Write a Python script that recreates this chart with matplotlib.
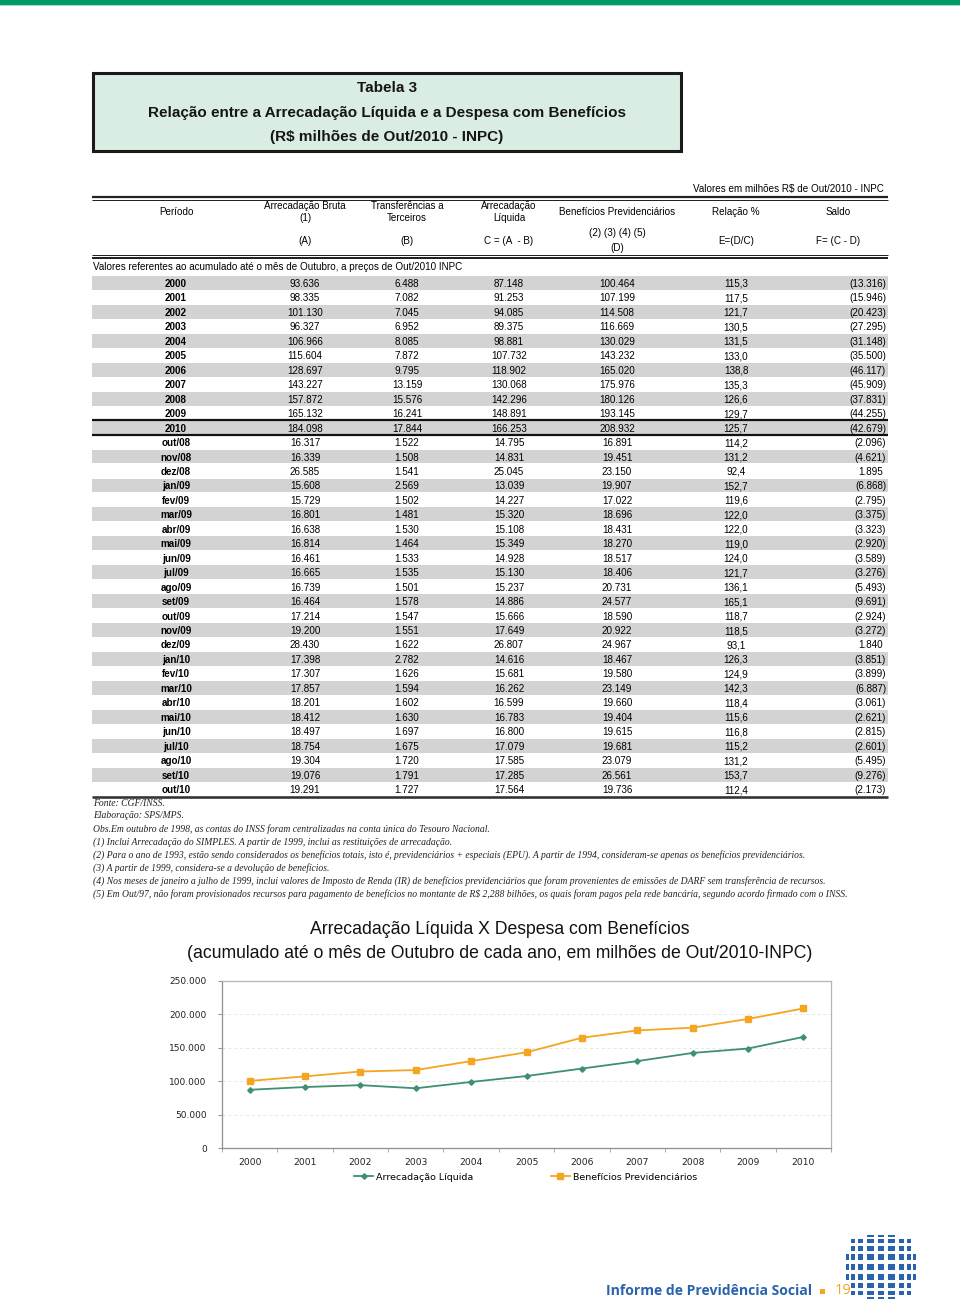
import matplotlib
matplotlib.use('Agg')
import matplotlib.pyplot as plt
from matplotlib import font_manager
from matplotlib.patches import Rectangle
import numpy as np

# ---------------- data (R$ milhoes de Out/2010 - INPC) ----------------
periodos = ['2000', '2001', '2002', '2003', '2004', '2005', '2006', '2007', '2008', '2009', '2010',
            'out/08', 'nov/08', 'dez/08', 'jan/09', 'fev/09', 'mar/09', 'abr/09', 'mai/09', 'jun/09',
            'jul/09', 'ago/09', 'set/09', 'out/09', 'nov/09', 'dez/09', 'jan/10', 'fev/10', 'mar/10',
            'abr/10', 'mai/10', 'jun/10', 'jul/10', 'ago/10', 'set/10', 'out/10']

arrec_bruta = [93636, 98335, 101130, 96327, 106966, 115604, 128697, 143227, 157872, 165132, 184098,
               16317, 16339, 26585, 15608, 15729, 16801, 16638, 16814, 16461, 16665, 16739, 16464,
               17214, 19200, 28430, 17398, 17307, 17857, 18201, 18412, 18497, 18754, 19304, 19076, 19291]

transf = [6488, 7082, 7045, 6952, 8085, 7872, 9795, 13159, 15576, 16241, 17844,
          1522, 1508, 1541, 2569, 1502, 1481, 1530, 1464, 1533, 1535, 1501, 1578,
          1547, 1551, 1622, 2782, 1626, 1594, 1602, 1630, 1697, 1675, 1720, 1791, 1727]

arrec_liq = [87148, 91253, 94085, 89375, 98881, 107732, 118902, 130068, 142296, 148891, 166253,
             14795, 14831, 25045, 13039, 14227, 15320, 15108, 15349, 14928, 15130, 15237, 14886,
             15666, 17649, 26807, 14616, 15681, 16262, 16599, 16783, 16800, 17079, 17585, 17285, 17564]

beneficios = [100464, 107199, 114508, 116669, 130029, 143232, 165020, 175976, 180126, 193145, 208932,
              16891, 19451, 23150, 19907, 17022, 18696, 18431, 18270, 18517, 18406, 20731, 24577,
              18590, 20922, 24967, 18467, 19580, 23149, 19660, 19404, 19615, 19681, 23079, 26561, 19736]

relacao = [115.3, 117.5, 121.7, 130.5, 131.5, 133.0, 138.8, 135.3, 126.6, 129.7, 125.7,
           114.2, 131.2, 92.4, 152.7, 119.6, 122.0, 122.0, 119.0, 124.0, 121.7, 136.1, 165.1,
           118.7, 118.5, 93.1, 126.3, 124.9, 142.3, 118.4, 115.6, 116.8, 115.2, 131.2, 153.7, 112.4]

saldo = [-13316, -15946, -20423, -27295, -31148, -35500, -46117, -45909, -37831, -44255, -42679,
         -2096, -4621, 1895, -6868, -2795, -3375, -3323, -2920, -3589, -3276, -5493, -9691,
         -2924, -3272, 1840, -3851, -3899, -6887, -3061, -2621, -2815, -2601, -5495, -9276, -2173]

anos = periodos[:11]
serie_liq = arrec_liq[:11]
serie_ben = beneficios[:11]

notas = [
    "Fonte: CGF/INSS.",
    "Elaboração: SPS/MPS.",
    "Obs.Em outubro de 1998, as contas do INSS foram centralizadas na conta única do Tesouro Nacional.",
    "(1) Inclui Arrecadação do SIMPLES. A partir de 1999, inclui as restituições de arrecadação.",
    "(2) Para o ano de 1993, estão sendo considerados os benefícios totais, isto é, previdenciários + especiais (EPU). A partir de 1994, consideram-se apenas os benefícios previdenciários.",
    "(3) A partir de 1999, considera-se a devolução de benefícios.",
    "(4) Nos meses de janeiro a julho de 1999, inclui valores de Imposto de Renda (IR) de benefícios previdenciários que foram provenientes de emissões de DARF sem transferência de recursos.",
    "(5) Em Out/97, não foram provisionados recursos para pagamento de benefícios no montante de R$ 2,288 bilhões, os quais foram pagos pela rede bancária, segundo acordo firmado com o INSS.",
]


def fmt_int(v):
    return f"{abs(v):,}".replace(',', '.')


def fmt_saldo(v):
    return "(" + fmt_int(v) + ")" if v < 0 else fmt_int(v)


def fmt_rel(v):
    return f"{v:.1f}".replace('.', ',')


# ---------------- fonts ----------------
names = {f.name for f in font_manager.fontManager.ttflist}
if 'Liberation Sans Narrow' in names:
    NARROW = 'Liberation Sans Narrow'
    fs_tab = 7.8
else:
    NARROW = 'Liberation Sans'
    fs_tab = 7.1
plt.rcParams['font.family'] = ['Liberation Sans', 'DejaVu Sans']

W, H = 960, 1301
fig = plt.figure(figsize=(W / 100, H / 100), dpi=100)
fig.patch.set_facecolor('white')

# page overlay in pixel coordinates
pg = fig.add_axes([0, 0, 1, 1])
pg.set_xlim(0, W)
pg.set_ylim(H, 0)
pg.axis('off')


def t(x, y, s, size=fs_tab, ha='center', family=None, **kw):
    pg.text(x, y, s, fontsize=size, ha=ha, va='center_baseline', family=family or NARROW, **kw)


def hline(y, x0=92, x1=888, px=1.0, color='#222222'):
    pg.plot([x0, x1], [y, y], color=color, lw=px * 0.72, solid_capstyle='butt')


# top green band
pg.add_patch(Rectangle((0, 0), W, 4.5, color='#00996a', lw=0))
pg.add_patch(Rectangle((0, 4.5), W, 1.8, color='#a9dcc6', lw=0))

# title box
pg.add_patch(Rectangle((93, 73), 588, 78, facecolor='#daede3', edgecolor='#1a1a1a', lw=2.2))
t(387, 87, "Tabela 3", size=11, family='Liberation Sans', weight='bold', color='#151515')
t(387, 111, "Relação entre a Arrecadação Líquida e a Despesa com Benefícios", size=11,
  family='Liberation Sans', weight='bold', color='#151515')
t(387, 135, "(R$ milhões de Out/2010 - INPC)", size=11, family='Liberation Sans',
  weight='bold', color='#151515')

# table header
t(884, 188, "Valores em milhões R$ de Out/2010 - INPC", ha='right')
hline(196.5, px=2.2)
hline(199.8, px=1.0)

cols = [176, 305, 407, 509, 617, 736, 838]
t(cols[0], 211, "Período")
t(cols[1], 205, "Arrecadação Bruta")
t(cols[1], 217, "(1)")
t(cols[2], 205, "Transferências a")
t(cols[2], 217, "Terceiros")
t(cols[3], 205, "Arrecadação")
t(cols[3], 217, "Líquida")
t(cols[4], 211, "Benefícios Previdenciários")
t(cols[5], 211, "Relação %")
t(cols[6], 211, "Saldo")
t(cols[1], 240, "(A)")
t(cols[2], 240, "(B)")
t(cols[3], 240, "C = (A  - B)")
t(cols[4], 232, "(2) (3) (4) (5)")
t(cols[4], 247, "(D)")
t(cols[5], 240, "E=(D/C)")
t(cols[6], 240, "F= (C - D)")
hline(254.5, px=1.0)
hline(257.8, px=2.0)

t(93, 266, "Valores referentes ao acumulado até o mês de Outubro, a preços de Out/2010 INPC", ha='left')

# body rows
y0, dy = 283.0, 14.46
row_y = y0 + dy * np.arange(len(periodos))
shade = [i for i in range(len(periodos)) if i % 2 == 0]
pg.barh(row_y[shade], 796, left=92, height=dy - 0.6, color='#d3d3d3', lw=0, zorder=0)

for i, p in enumerate(periodos):
    y = row_y[i]
    t(cols[0], y, p, weight='bold')
    t(cols[1], y, fmt_int(arrec_bruta[i]))
    t(cols[2], y, fmt_int(transf[i]))
    t(cols[3], y, fmt_int(arrec_liq[i]))
    t(cols[4], y, fmt_int(beneficios[i]))
    t(cols[5], y, fmt_rel(relacao[i]))
    t(886 if saldo[i] < 0 else 883, y, fmt_saldo(saldo[i]), ha='right')

hline(row_y[10] - dy / 2, px=2.2, color='#111111')
hline(row_y[10] + dy / 2, px=2.2, color='#111111')
hline(row_y[-1] + dy / 2 + 0.5, px=2.6, color='#333333')

# footnotes
for k, s in enumerate(notas):
    pg.text(93, 802 + 13 * k, s, fontsize=6.95, ha='left', va='center_baseline',
            family='Liberation Serif', style='italic', color='#222222')

# chart title
t(500, 928, "Arrecadação Líquida X Despesa com Benefícios", size=12.7,
  family='Liberation Sans', color='#111111')
t(500, 952, "(acumulado até o mês de Outubro de cada ano, em milhões de Out/2010-INPC)",
  size=12.7, family='Liberation Sans', color='#111111')

# ---------------- line chart ----------------
ax = fig.add_axes([222 / W, 1 - 1148 / H, 609 / W, 167 / H])
x = np.arange(len(anos))
ax.plot(x, serie_liq, color='#3f8f72', lw=1.3, marker='D', ms=2.8,
        label='Arrecadação Líquida')
ax.plot(x, serie_ben, color='#f4a522', lw=1.3, marker='s', ms=4.8,
        label='Benefícios Previdenciários')
ax.set_xlim(-0.5, len(anos) - 0.5)
ax.set_ylim(0, 250000)
ax.set_yticks(np.arange(0, 250001, 50000))
ax.set_yticklabels([fmt_int(v) for v in range(0, 250001, 50000)], family='DejaVu Sans',
                   fontsize=6.5, color='#222222')
ax.set_xticks(x)
ax.set_xticklabels(anos, family='DejaVu Sans', fontsize=6.6, color='#222222')
ax.set_xticks(np.arange(-0.5, len(anos), 1), minor=True)
ax.tick_params(axis='x', which='major', length=0, pad=7)
ax.tick_params(axis='x', which='minor', length=3, color='#999999')
ax.tick_params(axis='y', length=3, color='#999999', pad=8)
ax.yaxis.grid(True, color='#e4e4e4', lw=0.6, ls=(0, (4, 3)))
ax.set_axisbelow(True)
for side in ['left', 'bottom']:
    ax.spines[side].set_color('#8f8f8f')
for side in ['top', 'right']:
    ax.spines[side].set_color('#b5b5b5')
for s in ax.spines.values():
    s.set_linewidth(0.9)
leg = ax.legend(loc='center', bbox_to_anchor=(0.498, -0.175), ncol=2, frameon=False,
                handlelength=2.1, columnspacing=8.2, handletextpad=0.25,
                prop={'family': 'DejaVu Sans', 'size': 6.8})

# ---------------- footer ----------------
pg.text(812, 1291, "Informe de Previdência Social", fontsize=10.1, ha='right', va='center',
        family='Open Sans', weight='bold', color='#2a63ad')
pg.add_patch(Rectangle((820, 1288.5), 5, 5, color='#f4a522', lw=0))
pg.text(835, 1291, "19", fontsize=10.6, ha='left', va='center', family='Open Sans',
        color='#f4a522', zorder=5)

# logo: globe made of small squares
cx, cy, rx, ry = 881, 1267, 36, 33
step = 0.3
for v in np.arange(-4, 5) * step:
    for u in np.arange(-4, 5) * step:
        if (u / 1.3) ** 2 + (v / 1.25) ** 2 > 1.0:
            continue
        px_ = cx + rx * np.sin(u)
        py_ = cy + ry * np.sin(v)
        sw = 0.62 * rx * step * np.cos(u)
        sh = 0.6 * ry * step * np.cos(v)
        pg.add_patch(Rectangle((px_ - sw / 2, py_ - sh / 2), sw, sh, color='#2a63ad', lw=0))

fig.savefig('out.png', dpi=100)
